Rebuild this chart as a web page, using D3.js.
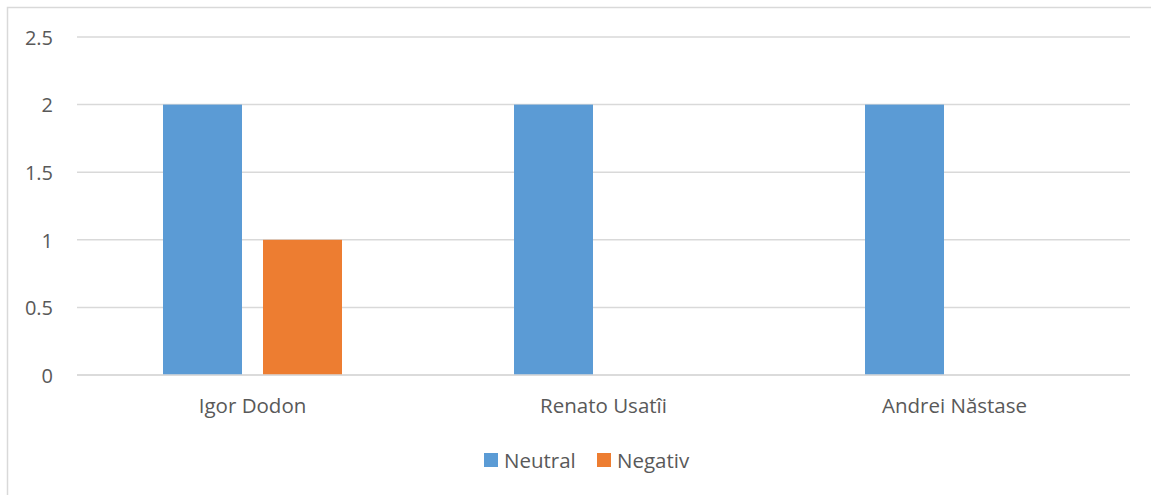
<!DOCTYPE html>
<html>
<head>
<meta charset="utf-8">
<script src="https://cdn.jsdelivr.net/npm/d3@7"></script>
<style>
  html, body { margin: 0; padding: 0; background: #fff; }
  svg { display: block; font-family: "Open Sans", sans-serif; }
</style>
</head>
<body>
<svg id="chart" width="1151" height="495"></svg>
<script>
// Candidates and sentiment counts
const categories = ["Igor Dodon", "Renato Usatîi", "Andrei Năstase"];
const seriesNames = ["Neutral", "Negativ"];
const neutralValues = [2, 2, 2];
const negativeValues = [1, 0, 0];
const yTicks = [0, 0.5, 1, 1.5, 2, 2.5];
const seriesColors = ["#5B9BD5", "#ED7D31"];

const seriesValues = [neutralValues, negativeValues];

const svg = d3.select("#chart");
const W = 1151, H = 495;

// Outer frame
svg.append("rect")
  .attr("x", 7.5).attr("y", 7.5)
  .attr("width", W + 20).attr("height", H + 20)
  .attr("fill", "#fff")
  .attr("stroke", "#D9D9D9")
  .attr("stroke-width", 1.5);

const plot = { left: 77, right: 1130, top: 37, bottom: 375 };

const x0 = d3.scaleBand()
  .domain(categories)
  .range([plot.left, plot.right])
  .paddingInner(0).paddingOuter(0);

const x1 = d3.scaleBand()
  .domain(seriesNames)
  .range([0, x0.bandwidth()])
  .paddingInner(0.21)
  .paddingOuter(0.86);

const y = d3.scaleLinear().domain([0, 2.5]).range([plot.bottom, plot.top]);

// Gridlines
svg.append("g")
  .selectAll("line")
  .data(yTicks)
  .join("line")
  .attr("x1", plot.left).attr("x2", plot.right)
  .attr("y1", d => y(d)).attr("y2", d => y(d))
  .attr("stroke", "#D9D9D9")
  .attr("stroke-width", 1.5);

// Y axis labels
const yAxis = d3.axisLeft(y).tickValues(yTicks).tickSize(0).tickPadding(0)
  .tickFormat(d => String(d));
svg.append("g")
  .attr("transform", `translate(${53},0)`)
  .call(yAxis)
  .call(g => g.select(".domain").remove())
  .call(g => g.selectAll("text")
    .attr("font-family", "'Open Sans', sans-serif")
    .attr("font-size", 20)
    .attr("fill", "#595959")
    .attr("dy", "0.36em"));

// Bars
const rows = categories.map((c, i) => ({
  category: c,
  values: seriesNames.map((s, j) => ({ series: s, value: seriesValues[j][i], color: seriesColors[j] }))
}));

const groups = svg.append("g")
  .selectAll("g")
  .data(rows)
  .join("g")
  .attr("transform", d => `translate(${x0(d.category)},0)`);

groups.selectAll("rect")
  .data(d => d.values.filter(v => v.value > 0))
  .join("rect")
  .attr("x", d => x1(d.series))
  .attr("width", x1.bandwidth())
  .attr("y", d => y(d.value))
  .attr("height", d => y(0) - y(d.value))
  .attr("fill", d => d.color);

// Redraw the baseline over the bars
svg.append("line")
  .attr("x1", plot.left).attr("x2", plot.right)
  .attr("y1", y(0)).attr("y2", y(0))
  .attr("stroke", "#D9D9D9")
  .attr("stroke-width", 1.5);

// Category labels
const xAxis = d3.axisBottom(x0).tickSize(0).tickPadding(0);
svg.append("g")
  .attr("transform", `translate(0,${413})`)
  .call(xAxis)
  .call(g => g.select(".domain").remove())
  .call(g => g.selectAll("text")
    .attr("font-family", "'Open Sans', sans-serif")
    .attr("font-size", 20.5)
    .attr("fill", "#595959")
    .attr("dy", 0)
    .attr("y", 0));

// Legend
const legendItems = [
  { name: seriesNames[0], color: seriesColors[0], x: 484 },
  { name: seriesNames[1], color: seriesColors[1], x: 597 }
];
const legend = svg.append("g");
const li = legend.selectAll("g").data(legendItems).join("g")
  .attr("transform", d => `translate(${d.x},453)`);
li.append("rect").attr("width", 14).attr("height", 14).attr("fill", d => d.color);
li.append("text")
  .attr("x", 20).attr("y", 14.5)
  .attr("font-size", 20.5)
  .attr("fill", "#595959")
  .text(d => d.name);
</script>
</body>
</html>
